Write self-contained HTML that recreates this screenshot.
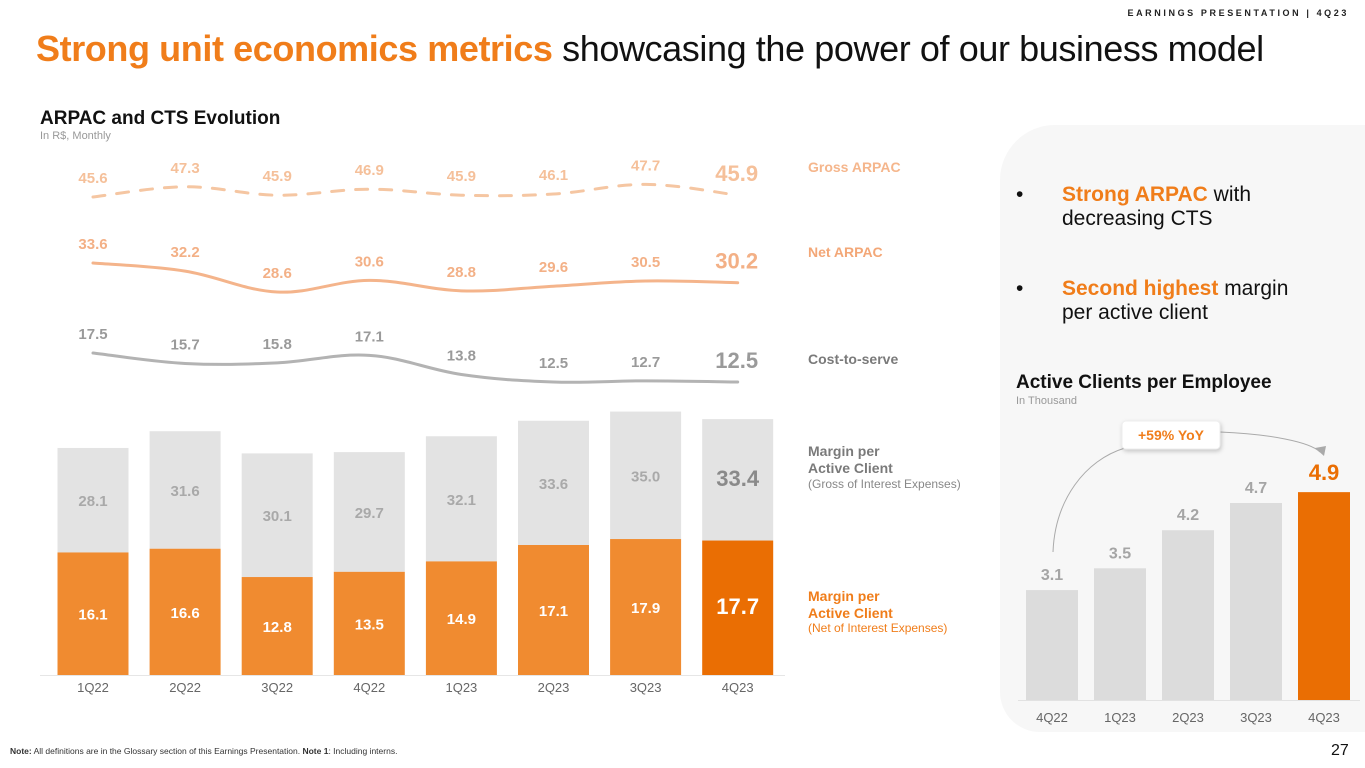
<!DOCTYPE html>
<html><head><meta charset="utf-8">
<style>
body{margin:0;width:1365px;height:768px;overflow:hidden;background:#fff;font-family:"Liberation Sans",sans-serif;position:relative}
.a{position:absolute;white-space:nowrap}
.b{position:absolute;font-size:21px;line-height:24px;color:#111;white-space:nowrap}
.b .dot{position:absolute;left:0;top:0}
.b .txt{position:absolute;left:46px;top:0}
</style></head><body>
<div class="a" style="right:16px;top:8px;font-size:9px;font-weight:bold;letter-spacing:2.6px;color:#222">EARNINGS PRESENTATION | 4Q23</div>
<div class="a" style="left:36px;top:28px;font-size:36px;letter-spacing:-0.4px;color:#111"><span style="color:#f07d1a;font-weight:bold">Strong unit economics metrics</span> showcasing the power of our business model</div>
<div class="a" style="left:40px;top:108px;font-size:19px;font-weight:bold;color:#111">ARPAC and CTS Evolution</div>
<div class="a" style="left:40px;top:130px;font-size:11px;color:#999">In R$, Monthly</div>
<div class="a" style="left:1000px;top:125px;width:365px;height:607px;background:#f7f7f7;border-radius:55px 0 0 40px"></div>
<div class="b" style="left:1016px;top:183px"><span class="dot">•</span><span class="txt"><span style="color:#f07d1a;font-weight:bold">Strong ARPAC</span> with<br>decreasing CTS</span></div>
<div class="b" style="left:1016px;top:277px"><span class="dot">•</span><span class="txt"><span style="color:#f07d1a;font-weight:bold">Second highest</span> margin<br>per active client</span></div>
<div class="a" style="left:1016px;top:372px;font-size:19px;font-weight:bold;color:#111">Active Clients per Employee</div>
<div class="a" style="left:1016px;top:395px;font-size:11px;color:#999">In Thousand</div>
<div class="a" style="left:10px;top:746px;font-size:8.5px;color:#333"><b>Note:</b> All definitions are in the Glossary section of this Earnings Presentation. <b>Note 1</b>: Including interns.</div>
<div class="a" style="left:1331px;top:742px;font-size:16px;color:#111">27</div>
<svg id="c" class="a" style="left:0;top:0" width="1365" height="768"></svg>
<script>
const quarters=["1Q22","2Q22","3Q22","4Q22","1Q23","2Q23","3Q23","4Q23"];
const grossArpac=[45.6,47.3,45.9,46.9,45.9,46.1,47.7,45.9];
const netArpac=[33.6,32.2,28.6,30.6,28.8,29.6,30.5,30.2];
const costToServe=[17.5,15.7,15.8,17.1,13.8,12.5,12.7,12.5];
const marginGross=[28.1,31.6,30.1,29.7,32.1,33.6,35.0,33.4];
const marginNet=[16.1,16.6,12.8,13.5,14.9,17.1,17.9,17.7];
const empQuarters=["4Q22","1Q23","2Q23","3Q23","4Q23"];
const clientsPerEmp=[3.1,3.5,4.2,4.7,4.9];

const svg=document.getElementById('c');
const NS="http://www.w3.org/2000/svg";
function mk(tag,attrs,txt){const e=document.createElementNS(NS,tag);for(const k in attrs)e.setAttribute(k,attrs[k]);if(txt!==undefined)e.textContent=txt;svg.appendChild(e);return e;}
const xL=i=>93+i*92.1;
const yGross=v=>197-(v-45.6)*6;
const yNet=v=>263-(v-33.6)*5.8;
const yCts=v=>353-(v-17.5)*5.8;
const base=675;
const hNet=v=>7.45*v+2.6;
const hTotal=v=>42.3+4.18*v;
function smooth(pts){let d=`M${pts[0][0]},${pts[0][1]}`;for(let i=0;i<pts.length-1;i++){const p0=pts[Math.max(0,i-1)],p1=pts[i],p2=pts[i+1],p3=pts[Math.min(pts.length-1,i+2)];const t=0.18;d+=` C${p1[0]+(p2[0]-p0[0])*t},${p1[1]+(p2[1]-p0[1])*t} ${p2[0]-(p3[0]-p1[0])*t},${p2[1]-(p3[1]-p1[1])*t} ${p2[0]},${p2[1]}`;}return d;}
function series(vals,yf,color,labelColor,dash,name){
  const p=mk('path',{d:smooth(vals.map((v,i)=>[xL(i),yf(v)])),fill:'none',stroke:color,'stroke-width':3,'stroke-linecap':'round','stroke-dasharray':dash||'none'});
  
  
  vals.forEach((v,i)=>{const last=i===vals.length-1;
    const t=mk('text',{x:xL(i)+(last?-1:0),y:yf(v)-14,'text-anchor':'middle','font-size':last?22:15,'font-weight':'bold',fill:labelColor,'font-family':'Liberation Sans,sans-serif'},v.toFixed(1));
    
    });
}
series(grossArpac,yGross,'#f5c6a2','#f5c09a','12 12','gross-arpac');
series(netArpac,yNet,'#f4b48b','#f3b086',null,'net-arpac');
series(costToServe,yCts,'#b3b3b3','#9a9a9a',null,'cost-to-serve');
const bw=71;
quarters.forEach((q,i)=>{
  const x=xL(i)-bw/2,last=i===quarters.length-1;
  const hn=hNet(marginNet[i]),ht=hTotal(marginNet[i]+marginGross[i]),hg=ht-hn;
  const g=mk('rect',{x:x,y:base-ht,width:bw,height:hg,fill:'#e3e3e3'});
  
  
  const n=mk('rect',{x:x,y:base-hn,width:bw,height:hn,fill:last?'#ea6e03':'#f08b30'});
  
  
  const tg=mk('text',{x:xL(i),y:base-ht+hg/2+6,'text-anchor':'middle','font-size':last?22:15,'font-weight':'bold',fill:last?'#8a8a8a':'#a9a9a9'},marginGross[i].toFixed(1));
  
  
  const tn=mk('text',{x:xL(i),y:base-hn/2+6,'text-anchor':'middle','font-size':last?22:15,'font-weight':'bold',fill:'#fff'},marginNet[i].toFixed(1));
  
  
  const xl=mk('text',{x:xL(i),y:base+17,'text-anchor':'middle','font-size':13,fill:'#666'},q);
  
  
});
const bl=mk('line',{x1:40,x2:785,y1:base+0.5,y2:base+0.5,stroke:'#e6e6e6','stroke-width':1});


const leg=[[808,172,'Gross ARPAC','#f5b68c',14,'bold'],[808,257,'Net ARPAC','#f3a777',14,'bold'],[808,364,'Cost-to-serve','#7a7a7a',14,'bold'],
[808,456,'Margin per','#7a7a7a',14,'bold'],[808,473,'Active Client','#7a7a7a',14,'bold'],[808,488,'(Gross of Interest Expenses)','#888',12,'normal'],
[808,601,'Margin per','#f07d1a',14,'bold'],[808,618,'Active Client','#f07d1a',14,'bold'],[808,632,'(Net of Interest Expenses)','#f07d1a',12,'normal']];
leg.forEach(l=>{const t=mk('text',{x:l[0],y:l[1],'font-size':l[4],'font-weight':l[5],fill:l[3]},l[2]);
  
  });
const xR=i=>1052+i*68, rb=700, hR=v=>54.4*v-58.7;
empQuarters.forEach((q,i)=>{const last=i===empQuarters.length-1,h=hR(clientsPerEmp[i]);
  const r=mk('rect',{x:xR(i)-26,y:rb-h,width:52,height:h,fill:last?'#ea6e03':'#dcdcdc'});
  
  
  const t=mk('text',{x:xR(i),y:rb-h-(last?12:10),'text-anchor':'middle','font-size':last?22:16,'font-weight':'bold',fill:last?'#ea6e03':'#a5a5a5'},clientsPerEmp[i].toFixed(1));
  
  
  const xl=mk('text',{x:xR(i),y:rb+22,'text-anchor':'middle','font-size':13,fill:'#666'},q);
  
  
});
const rbl=mk('line',{x1:1018,x2:1360,y1:rb+0.5,y2:rb+0.5,stroke:'#e2e2e2'});


const arc=mk('path',{d:'M1053,552 C1055,500 1085,460 1125,448 M1220,432 C1270,434 1310,442 1320,452',fill:'none',stroke:'#aaa','stroke-width':1});


const ah=mk('path',{d:'M1315,448 L1324,456 L1326,446 Z',fill:'#aaa'});


const box=mk('rect',{x:1122,y:421,width:98,height:28,rx:4,fill:'#fff',stroke:'#eee',style:'filter:drop-shadow(1px 2px 2px rgba(0,0,0,0.2))'});


const bt=mk('text',{x:1171,y:440,'text-anchor':'middle','font-size':14,'font-weight':'bold',fill:'#f07d1a'},'+59% YoY');


</script>
</body></html>
